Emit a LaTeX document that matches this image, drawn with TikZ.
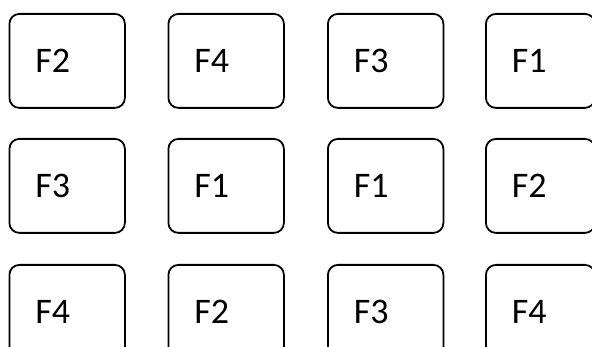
\documentclass[tikz,border=0pt]{standalone}
\usepackage{fontspec}
\setmainfont{Carlito}
\begin{document}
\begin{tikzpicture}[x=1pt,y=-1pt,
  keybox/.style={draw=black, line width=1.8pt, rounded corners=10pt, anchor=north west,
    minimum height=94pt, inner ysep=0pt, inner xsep=26pt, align=left,
    text width=63.5pt, font=\fontsize{36}{36}\selectfont},
  keyboxnarrow/.style={keybox, text width=57pt}]
\clip (0,0) rectangle (592,347);
\fill[white] (0,0) rectangle (592,347);
% row 1
\node[keybox] (a1) at (8.5,13) {F2};
\node[keybox] (a2) at (167.5,13) {F4};
\node[keybox] (a3) at (327,13) {F3};
\node[keyboxnarrow] (a4) at (485,13) {F1};
% row 2
\node[keybox] (b1) at (8.5,138) {F3};
\node[keybox] (b2) at (167.5,138) {F1};
\node[keybox] (b3) at (327,138) {F1};
\node[keyboxnarrow] (b4) at (485,138) {F2};
% row 3
\node[keybox] (c1) at (8.5,264) {F4};
\node[keybox] (c2) at (167.5,264) {F2};
\node[keybox] (c3) at (327,264) {F3};
\node[keyboxnarrow] (c4) at (485,264) {F4};
\end{tikzpicture}
\end{document}
